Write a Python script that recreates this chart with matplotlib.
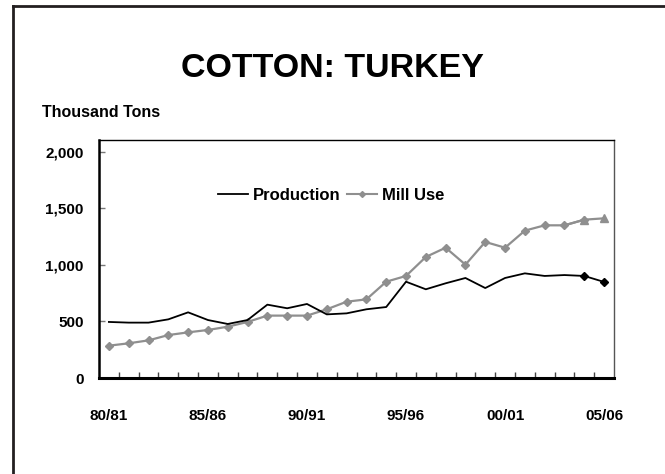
import matplotlib
matplotlib.use("Agg")
import matplotlib.pyplot as plt
from matplotlib.lines import Line2D

plt.rcParams['font.family'] = ['Liberation Sans', 'DejaVu Sans']
plt.rcParams['font.weight'] = 'bold'

years = ["80/81", "81/82", "82/83", "83/84", "84/85", "85/86", "86/87", "87/88", "88/89",
         "89/90", "90/91", "91/92", "92/93", "93/94", "94/95", "95/96", "96/97", "97/98",
         "98/99", "99/00", "00/01", "01/02", "02/03", "03/04", "04/05", "05/06"]
production = [496, 490, 490, 519, 581, 513, 478, 513, 649, 617, 655, 563, 572, 608, 628,
              852, 785, 838, 885, 796, 885, 926, 903, 911, 903, 850]
mill_use = [286, 307, 333, 380, 404, 425, 454, 496, 552, 552, 552, 608, 675, 696, 852,
            903, 1071, 1153, 1003, 1204, 1153, 1304, 1351, 1351, 1401, 1413]
label_every = 5
n_proj = 2  # last seasons shown with special markers

GRAY = "#8f8f8f"

fig = plt.figure(figsize=(6.65, 4.74), dpi=100)
ax = fig.add_axes([99/665, 1-378/474, (614-99)/665, (378-140)/474])

x = list(range(len(years)))
ax.plot(x, production, color="black", lw=1.3, label="Production", zorder=3)
ax.plot(x[-n_proj:], production[-n_proj:], color="black", lw=0, marker="D", ms=4.2, zorder=4)
ax.plot(x[:-n_proj+1], mill_use[:-n_proj+1], color=GRAY, lw=1.6, marker="D", ms=4.2,
        label="Mill Use", zorder=2)
ax.plot(x[-n_proj-1:], mill_use[-n_proj-1:], color=GRAY, lw=1.6, zorder=2)
ax.plot(x[-n_proj:], mill_use[-n_proj:], color=GRAY, lw=0, marker="^", ms=5.5, zorder=2)

ax.set_xlim(-0.5, len(years) - 0.5)
ax.set_ylim(0, 2106)
ax.set_yticks([0, 500, 1000, 1500, 2000])
ax.set_yticklabels(["0", "500", "1,000", "1,500", "2,000"])
ax.set_xticks([i for i in x if i % label_every == 0])
ax.set_xticklabels([years[i] for i in x if i % label_every == 0])
ax.set_xticks([i + 0.5 for i in x[:-1]], minor=True)

ax.tick_params(axis='y', direction='in', length=4, width=1, color="#777777",
               labelsize=11, pad=11)
ax.tick_params(axis='x', which='major', length=0, labelsize=11, pad=22)
ax.tick_params(axis='x', which='minor', direction='in', length=4, width=1, color="#444444")
for lab in ax.get_xticklabels() + ax.get_yticklabels():
    lab.set_fontweight('bold')

ax.spines['left'].set_linewidth(1.8)
ax.spines['bottom'].set_linewidth(2.2)
ax.spines['top'].set_linewidth(1.0)
ax.spines['right'].set_linewidth(1.0)
ax.spines['right'].set_color("#555555")
for s in ['left', 'bottom', 'top']:
    ax.spines[s].set_color("black")

handles = [Line2D([], [], color="black", lw=1.3),
           Line2D([], [], color=GRAY, lw=1.5, marker="D", ms=3)]
fig.legend(handles, ["Production", "Mill Use"], loc="center",
           bbox_to_anchor=(331/665, 1-195/474), ncol=2, frameon=False,
           prop={'weight': 'bold', 'size': 12}, handlelength=1.8,
           handletextpad=0.3, columnspacing=0.4, borderpad=0, borderaxespad=0)

fig.text(0.5, 1-76.7/474, "COTTON: TURKEY", ha="center", va="baseline",
         fontsize=24.5, fontweight="bold")
fig.text(42/665, 1-117/474, "Thousand Tons", ha="left", va="baseline",
         fontsize=11.5, fontweight="bold")

# page frame (left and top edges)
fig.add_artist(Line2D([13/665, 13/665], [0, 1-6/474], color="#231f20", lw=2,
                      transform=fig.transFigure))
fig.add_artist(Line2D([13/665, 1], [1-6/474, 1-6/474], color="#231f20", lw=2,
                      transform=fig.transFigure))

fig.savefig("out.png", dpi=100, facecolor="white")
